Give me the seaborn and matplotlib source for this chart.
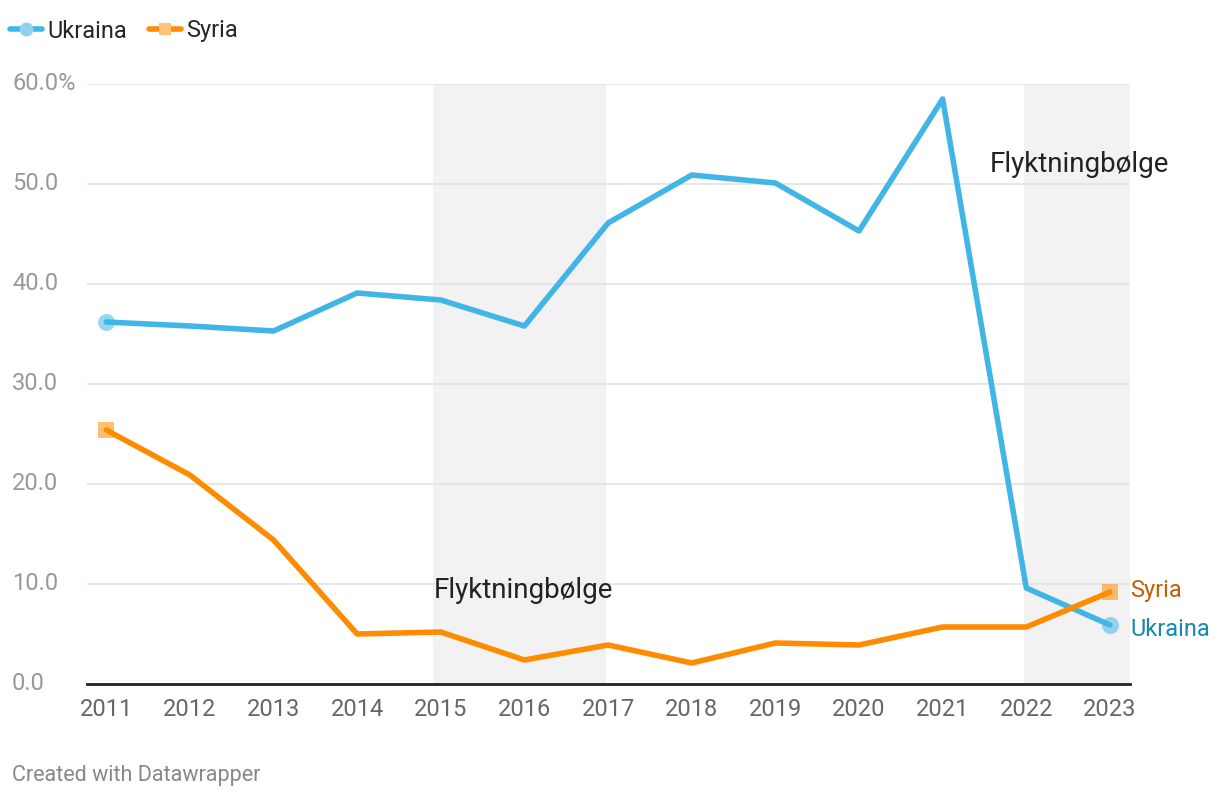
import matplotlib
matplotlib.use("Agg")
import matplotlib.pyplot as plt
import matplotlib.transforms as mtransforms
import seaborn as sns
import pandas as pd
from matplotlib.lines import Line2D

years = list(range(2011, 2024))
ukraina = [36.2, 35.8, 35.3, 39.1, 38.4, 35.8, 46.1, 50.9, 50.1, 45.3, 58.5, 9.6, 5.9]
syria = [25.4, 20.9, 14.4, 5.0, 5.2, 2.4, 3.9, 2.1, 4.1, 3.9, 5.7, 5.7, 9.2]
yticks = [0, 10, 20, 30, 40, 50, 60]
ytick_labels = ["0.0", "10.0", "20.0", "30.0", "40.0", "50.0", "60.0%"]
shade_ranges = [(2014.91, 2016.98), (2021.97, 2023.24)]
annotation_text = "Flyktningbølge"

sns.set_theme(style="white")
plt.rcParams['font.family'] = ['Roboto', 'DejaVu Sans']

C_UKR = "#41b6e6"
C_SYR = "#ff8c00"

df = pd.DataFrame({
    "year": years * 2,
    "value": ukraina + syria,
    "country": ["Ukraina"] * len(years) + ["Syria"] * len(years),
})

fig = plt.figure(figsize=(12.2, 8), dpi=100)
ax = fig.add_axes([87/1220, 1 - 684/800, (1130 - 87)/1220, 600/800])

for a, b in shade_ranges:
    ax.axvspan(a, b, color="#f2f2f2", zorder=0, lw=0)

for y in yticks[1:]:
    ax.axhline(y, color="#e3e3e3", lw=1.2, zorder=1)

sns.lineplot(data=df, x="year", y="value", hue="country",
             palette={"Ukraina": C_UKR, "Syria": C_SYR},
             linewidth=4, ax=ax, legend=False, zorder=3)

# endpoint markers
ax.scatter([years[0], years[-1]], [ukraina[0], ukraina[-1]], s=150, color=C_UKR,
           alpha=0.55, zorder=4, lw=0)
ax.scatter([years[0], years[-1]], [syria[0], syria[-1]], s=130, color=C_SYR,
           alpha=0.55, marker="s", zorder=4, lw=0)

ax.set_xlim(2010.77, 2023.24)
ax.set_ylim(0, 60)
ax.set_xticks(years)
ax.set_xticklabels([str(y) for y in years], fontsize=17, color="#666666")
ax.set_yticks(yticks)
ax.set_yticklabels([])
ytrans = mtransforms.blended_transform_factory(fig.transFigure, ax.transData)
for y, lab in zip(yticks, ytick_labels):
    ax.text(12/1220, y, lab, transform=ytrans,
            ha="left", va="center", fontsize=17, color="#999999")
ax.tick_params(axis="x", length=0, pad=10)
ax.tick_params(axis="y", length=0)
for s in ["top", "right", "left"]:
    ax.spines[s].set_visible(False)
ax.spines["bottom"].set_color("#222222")
ax.spines["bottom"].set_linewidth(2)
ax.set_xlabel("")
ax.set_ylabel("")

ax.text(2014.91, 9.3, annotation_text, fontsize=20, color="#222222", ha="left", va="center", zorder=5)
ax.text(2021.56, 52.0, annotation_text, fontsize=20, color="#222222", ha="left", va="center",
        zorder=5, clip_on=False)

ax.text(2023.24, syria[-1] + 0.2, "Syria", fontsize=17, color="#c0610a", ha="left", va="center", clip_on=False)
ax.text(2023.24, ukraina[-1] - 0.4, "Ukraina", fontsize=17, color="#1a87b2", ha="left", va="center", clip_on=False)

handles = [
    Line2D([0], [0], color=C_UKR, lw=4, marker="o", markersize=10,
           markerfacecolor="#8fd3f0", markeredgewidth=0),
    Line2D([0], [0], color=C_SYR, lw=4, marker="s", markersize=9,
           markerfacecolor="#ffc27a", markeredgewidth=0),
]
fig.legend(handles, ["Ukraina", "Syria"], loc="center left", bbox_to_anchor=(10/1220, 1 - 31/800),
           ncol=2, frameon=False, fontsize=17, handlelength=1.35, handletextpad=0.25,
           columnspacing=0.9, borderaxespad=0, borderpad=0)

fig.text(12/1220, 1 - 776/800, "Created with Datawrapper", fontsize=15.5, color="#888888",
         ha="left", va="center")

fig.savefig("out.png", dpi=100)
